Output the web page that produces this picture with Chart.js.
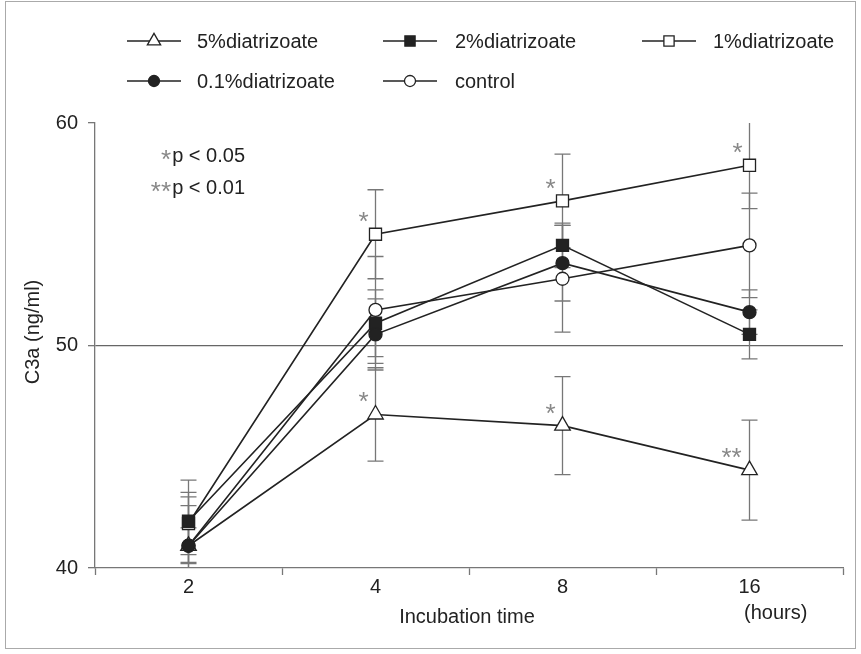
<!DOCTYPE html>
<html>
<head>
  <title>C3a over incubation time</title>
  <script src="https://cdn.jsdelivr.net/npm/chart.js"></script>
  <style>
    body { margin: 0; background: #fff; }
    #wrap { position: relative; width: 861px; height: 654px; }
  </style>
</head>
<body>
  <div id="wrap"><canvas id="c3aChart"></canvas></div>
  <script>
    // incubation time (hours), one category per column
    const hours = ['2', '4', '8', '16'];

    // C3a (ng/ml) means and error bar half-lengths
    const dia5 = [41.0, 46.9, 46.4, 44.4];
    const dia5Err = [0.8, 2.1, 2.2, 2.25];
    const dia2 = [42.1, 51.0, 54.5, 50.5];
    const dia2Err = [1.85, 1.5, 1.0, 1.1];
    const dia1 = [42.0, 55.0, 56.5, 58.1];
    const dia1Err = [1.4, 2.0, 2.1, 1.95];
    const dia01 = [41.0, 50.5, 53.7, 51.5];
    const dia01Err = [1.8, 1.6, 1.7, 1.0];
    const control = [41.0, 51.6, 53.0, 54.5];
    const controlErr = [2.2, 2.4, 2.4, 2.35];

    // significance marks
    const dia5Sig = ['', '*', '*', '**'];
    const dia1Sig = ['', '*', '*', '*'];

    const yTicks = [40, 50, 60];

    const INK = '#222';
    const AXIS = '#777';
    const FONT = '"Liberation Sans", Arial, sans-serif';

    const pts = vals => vals.map((v, i) => ({ x: i, y: v }));

    function series(label, vals, err, sig, style, radius, fill, order) {
      return {
        label: label,
        data: pts(vals),
        err: err,
        sig: sig,
        borderColor: INK,
        borderWidth: 1.6,
        pointStyle: style,
        pointRadius: radius,
        pointBackgroundColor: fill,
        pointBorderColor: INK,
        pointBorderWidth: 1.3,
        order: order
      };
    }

    const datasets = [
      series('5%diatrizoate', dia5, dia5Err, dia5Sig, 'triangle', 9, '#fff', 4),
      series('2%diatrizoate', dia2, dia2Err, null, 'rect', 8.5, INK, 1),
      series('1%diatrizoate', dia1, dia1Err, dia1Sig, 'rect', 8.5, '#fff', 2),
      series('0.1%diatrizoate', dia01, dia01Err, null, 'circle', 6.5, INK, 0),
      series('control', control, controlErr, null, 'circle', 6.5, '#fff', 3)
    ];

    // where each legend entry goes: [sample start x, text x, y]
    const legendSpots = [[127, 197, 41], [383, 455, 41], [642, 713, 41], [127, 197, 81], [383, 455, 81]];

    const errorBars = {
      id: 'errorBars',
      beforeDatasetsDraw(chart) {
        const ctx = chart.ctx;
        const y = chart.scales.y;
        const area = chart.chartArea;
        ctx.save();
        ctx.strokeStyle = AXIS;
        ctx.lineWidth = 1.3;
        chart.data.datasets.forEach((ds, i) => {
          const meta = chart.getDatasetMeta(i);
          ds.data.forEach((p, j) => {
            const x = meta.data[j].x;
            const top = y.getPixelForValue(p.y + ds.err[j]);
            const bot = y.getPixelForValue(p.y - ds.err[j]);
            ctx.beginPath();
            ctx.moveTo(x, Math.max(top, area.top));
            ctx.lineTo(x, Math.min(bot, area.bottom));
            [top, bot].forEach(t => {
              if (t >= area.top && t <= area.bottom) {
                ctx.moveTo(x - 8, t);
                ctx.lineTo(x + 8, t);
              }
            });
            ctx.stroke();
          });
        });
        ctx.restore();
      }
    };

    const sigMarks = {
      id: 'sigMarks',
      afterDatasetsDraw(chart) {
        const ctx = chart.ctx;
        ctx.save();
        ctx.fillStyle = '#888';
        ctx.font = '26px ' + FONT;
        ctx.textAlign = 'center';
        ctx.textBaseline = 'alphabetic';
        chart.data.datasets.forEach((ds, i) => {
          if (!ds.sig) return;
          const meta = chart.getDatasetMeta(i);
          ds.sig.forEach((s, j) => {
            if (!s) return;
            const el = meta.data[j];
            const dx = s.length > 1 ? -18 : -12;
            ctx.fillText(s, el.x + dx, el.y - 4);
          });
        });
        ctx.restore();
      }
    };

    const extras = {
      id: 'extras',
      afterDraw(chart) {
        const ctx = chart.ctx;
        const h = Chart.helpers;
        ctx.save();

        // frame of the figure
        ctx.strokeStyle = '#aaa';
        ctx.lineWidth = 1;
        ctx.strokeRect(5.5, 1.5, 850, 647);

        // legend
        chart.data.datasets.forEach((ds, i) => {
          const [sx, tx, ly] = legendSpots[i];
          ctx.strokeStyle = INK;
          ctx.lineWidth = 1.5;
          ctx.beginPath();
          ctx.moveTo(sx, ly);
          ctx.lineTo(sx + 54, ly);
          ctx.stroke();
          ctx.fillStyle = ds.pointBackgroundColor;
          ctx.strokeStyle = INK;
          ctx.lineWidth = 1.3;
          h.drawPoint(ctx, {
            pointStyle: ds.pointStyle,
            radius: ds.pointRadius * 0.85,
            rotation: 0,
            borderWidth: 1.3
          }, sx + 27, ly);
          ctx.fillStyle = INK;
          ctx.font = '20px ' + FONT;
          ctx.textAlign = 'left';
          ctx.textBaseline = 'middle';
          ctx.fillText(ds.label, tx, ly + 1);
        });

        // p-value key
        ctx.font = '20px ' + FONT;
        ctx.textAlign = 'right';
        ctx.textBaseline = 'middle';
        ctx.fillStyle = INK;
        ctx.fillText('p < 0.05', 245, 156);
        ctx.fillText('p < 0.01', 245, 188);
        ctx.fillStyle = '#888';
        ctx.font = '26px ' + FONT;
        ctx.textBaseline = 'alphabetic';
        ctx.fillText('*', 171, 168);
        ctx.fillText('**', 171, 200);

        // axis titles
        ctx.font = '20px ' + FONT;
        ctx.fillStyle = INK;
        ctx.textBaseline = 'middle';
        ctx.textAlign = 'center';
        ctx.fillText('Incubation time', 467, 617);
        ctx.textAlign = 'left';
        ctx.fillText('(hours)', 744, 613);
        ctx.translate(33, 332);
        ctx.rotate(-Math.PI / 2);
        ctx.textAlign = 'center';
        ctx.fillText('C3a (ng/ml)', 0, 0);
        ctx.restore();
      }
    };

    new Chart(document.getElementById('c3aChart'), {
      type: 'line',
      data: { datasets: datasets },
      options: {
        responsive: true,
        maintainAspectRatio: false,
        animation: false,
        layout: { padding: { left: 0, right: 18, top: 123, bottom: 0 } },
        plugins: {
          legend: { display: false },
          tooltip: { enabled: false }
        },
        scales: {
          x: {
            type: 'linear',
            min: -0.5,
            max: 3.5,
            afterFit: s => { s.height = 86; },
            afterBuildTicks: s => {
              s.ticks = [-0.5, 0, 0.5, 1, 1.5, 2, 2.5, 3, 3.5].map(v => ({ value: v }));
            },
            ticks: {
              autoSkip: false,
              maxRotation: 0,
              padding: 0,
              color: INK,
              font: { family: FONT, size: 20 },
              callback: v => Number.isInteger(v) ? hours[v] : ''
            },
            grid: {
              drawOnChartArea: false,
              tickLength: 7,
              tickWidth: 1.3,
              tickColor: c => (c.tick && Number.isInteger(c.tick.value)) ? 'rgba(0,0,0,0)' : AXIS
            },
            border: { color: AXIS, width: 1.3 }
          },
          y: {
            min: 40,
            max: 60,
            afterFit: s => { s.width = 95; },
            afterBuildTicks: s => { s.ticks = yTicks.map(v => ({ value: v })); },
            ticks: {
              padding: 10,
              color: INK,
              font: { family: FONT, size: 20 }
            },
            grid: {
              tickLength: 7,
              tickWidth: 1.3,
              tickColor: AXIS,
              lineWidth: 1.3,
              color: c => (c.tick && c.tick.value === 50) ? '#666' : 'rgba(0,0,0,0)'
            },
            border: { color: AXIS, width: 1.3 }
          }
        }
      },
      plugins: [errorBars, sigMarks, extras]
    });
  </script>
</body>
</html>
